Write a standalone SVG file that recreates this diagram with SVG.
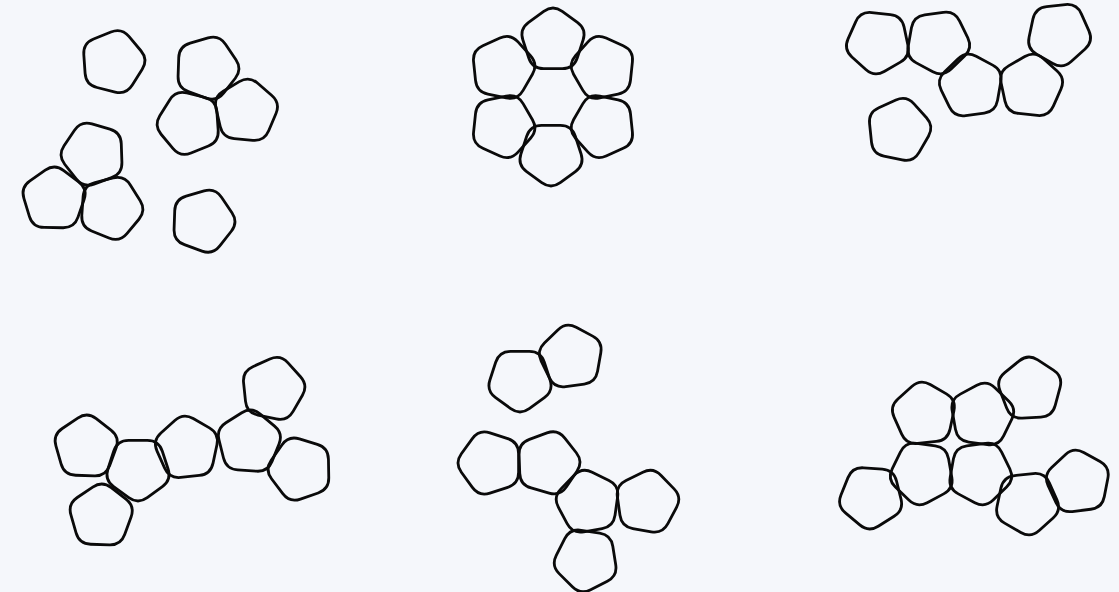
<svg xmlns="http://www.w3.org/2000/svg" xmlns:xlink="http://www.w3.org/1999/xlink" width="1119" height="592" viewBox="0 0 1119 592">
<style>
.pent{fill:none;stroke:#0a0a0a;stroke-width:2.8;stroke-linejoin:round}
</style>
<defs>
<path id="pent" class="pent" d="M9.26,-28.64 L24.38,-17.65 Q33.63,-10.93 30.1,-0.05 L24.32,17.73 Q20.79,28.61 9.35,28.61 L-9.35,28.61 Q-20.79,28.61 -24.32,17.73 L-30.1,-0.05 Q-33.63,-10.93 -24.38,-17.65 L-9.26,-28.64 Q0,-35.36 9.26,-28.64Z"/>
</defs>
<rect width="1119" height="592" fill="#f5f7fb"/>
<g id="connectors"></g>
<g id="cluster1">
<g id="p1"><use href="#pent" transform="translate(113,62) rotate(14)"/></g>
<g id="p2"><use href="#pent" transform="translate(207,68) rotate(20)"/></g>
<g id="p3"><use href="#pent" transform="translate(189,123) rotate(-22)"/></g>
<g id="p4"><use href="#pent" transform="translate(246,111) rotate(5)"/></g>
<g id="p5"><use href="#pent" transform="translate(93,154) rotate(-20)"/></g>
<g id="p6"><use href="#pent" transform="translate(54,199) rotate(1)"/></g>
<g id="p7"><use href="#pent" transform="translate(111,208) rotate(22)"/></g>
<g id="p8"><use href="#pent" transform="translate(203,221) rotate(20)"/></g>
</g>
<g id="cluster2">
<g id="p9"><use href="#pent" transform="translate(553,40) rotate(0)"/></g>
<g id="p10"><use href="#pent" transform="translate(603,68) rotate(60)"/></g>
<g id="p11"><use href="#pent" transform="translate(603,126) rotate(120)"/></g>
<g id="p12"><use href="#pent" transform="translate(551,154) rotate(180)"/></g>
<g id="p13"><use href="#pent" transform="translate(503,126) rotate(240)"/></g>
<g id="p14"><use href="#pent" transform="translate(503,68) rotate(300)"/></g>
</g>
<g id="cluster3">
<g id="p15"><use href="#pent" transform="translate(878,42) rotate(42)"/></g>
<g id="p16"><use href="#pent" transform="translate(938,42) rotate(28)"/></g>
<g id="p17"><use href="#pent" transform="translate(971,86) rotate(-8)"/></g>
<g id="p18"><use href="#pent" transform="translate(1031,86) rotate(6)"/></g>
<g id="p19"><use href="#pent" transform="translate(1059,34) rotate(30)"/></g>
<g id="p20"><use href="#pent" transform="translate(899,130) rotate(12)"/></g>
</g>
<g id="cluster4">
<g id="p21"><use href="#pent" transform="translate(86,447) rotate(2)"/></g>
<g id="p22"><use href="#pent" transform="translate(138,469) rotate(36)"/></g>
<g id="p23"><use href="#pent" transform="translate(101,516) rotate(2)"/></g>
<g id="p24"><use href="#pent" transform="translate(187,448) rotate(-6)"/></g>
<g id="p25"><use href="#pent" transform="translate(249,442) rotate(4)"/></g>
<g id="p26"><use href="#pent" transform="translate(273,389) rotate(12)"/></g>
<g id="p27"><use href="#pent" transform="translate(300,469) rotate(-19)"/></g>
</g>
<g id="cluster5">
<g id="p28"><use href="#pent" transform="translate(520,380) rotate(36)"/></g>
<g id="p29"><use href="#pent" transform="translate(571,357) rotate(-8)"/></g>
<g id="p30"><use href="#pent" transform="translate(490,463) rotate(-18)"/></g>
<g id="p31"><use href="#pent" transform="translate(548,463) rotate(16)"/></g>
<g id="p32"><use href="#pent" transform="translate(588,502) rotate(-10)"/></g>
<g id="p33"><use href="#pent" transform="translate(647,502) rotate(10)"/></g>
<g id="p34"><use href="#pent" transform="translate(586,560) rotate(45)"/></g>
</g>
<g id="cluster6">
<g id="p35"><use href="#pent" transform="translate(924,414) rotate(-6)"/></g>
<g id="p36"><use href="#pent" transform="translate(982,415) rotate(8)"/></g>
<g id="p37"><use href="#pent" transform="translate(1030,389) rotate(-3)"/></g>
<g id="p38"><use href="#pent" transform="translate(922,473) rotate(44)"/></g>
<g id="p39"><use href="#pent" transform="translate(980,473) rotate(28)"/></g>
<g id="p40"><use href="#pent" transform="translate(871,497) rotate(40)"/></g>
<g id="p41"><use href="#pent" transform="translate(1027,503) rotate(30)"/></g>
<g id="p42"><use href="#pent" transform="translate(1078,482) rotate(-7)"/></g>
</g>
</svg>
